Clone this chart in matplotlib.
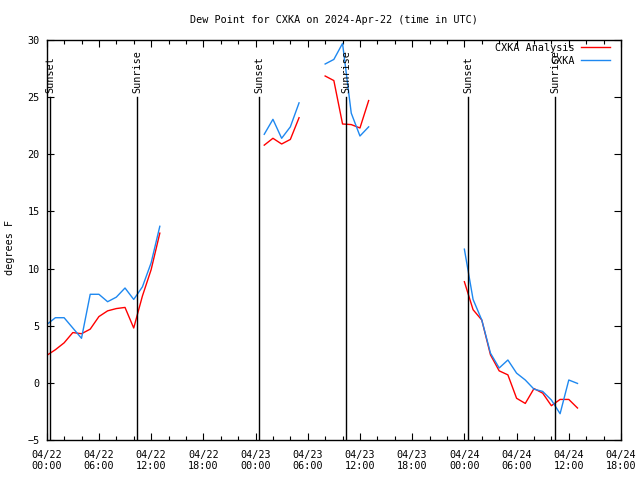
import numpy as np
import matplotlib
matplotlib.use("Agg")
import matplotlib.pyplot as plt
from matplotlib.ticker import MultipleLocator, FixedLocator

plt.rcParams['font.family'] = ['DejaVu Sans Mono']
FS = 7.3

# hours since 2024-04-22 00:00 UTC
seg_hours = [list(range(0, 14)), list(range(25, 30)), list(range(32, 38)), list(range(48, 62))]

analysis = [
    [2.4, 2.9, 3.5, 4.4, 4.3, 4.7, 5.8, 6.3, 6.5, 6.6, 4.8, 7.6, 9.9, 13.1],
    [20.8, 21.4, 20.9, 21.3, 23.2],
    [26.85, 26.45, 22.65, 22.6, 22.3, 24.7],
    [8.85, 6.4, 5.5, 2.45, 1.05, 0.7, -1.35, -1.8, -0.5, -0.9, -2.0, -1.45, -1.45, -2.2],
]
observed = [
    [5.1, 5.7, 5.7, 4.8, 3.9, 7.75, 7.75, 7.1, 7.5, 8.3, 7.3, 8.4, 10.5, 13.7],
    [21.75, 23.06, 21.4, 22.4, 24.5],
    [27.9, 28.3, 29.7, 23.6, 21.6, 22.4],
    [11.7, 7.3, 5.5, 2.6, 1.3, 2.0, 0.85, 0.25, -0.55, -0.75, -1.5, -2.7, 0.25, -0.05],
]

sunset_hours = [0.42, 24.42, 48.42]
sunrise_hours = [10.42, 34.42, 58.45]

tick_hours = list(range(0, 67, 6))
tick_labels = ["04/22\n00:00", "04/22\n06:00", "04/22\n12:00", "04/22\n18:00",
               "04/23\n00:00", "04/23\n06:00", "04/23\n12:00", "04/23\n18:00",
               "04/24\n00:00", "04/24\n06:00", "04/24\n12:00", "04/24\n18:00"]

RED = '#ff0000'
BLUE = '#1e88f0'


def join(segs_x, segs_y):
    xs, ys = [], []
    for i, (sx, sy) in enumerate(zip(segs_x, segs_y)):
        if i:
            xs.append(np.nan)
            ys.append(np.nan)
        xs += list(sx)
        ys += list(sy)
    return np.array(xs, float), np.array(ys, float)


fig = plt.figure(figsize=(6.4, 4.8), dpi=100)
ax = fig.add_axes([46.7 / 640, 1 - 440 / 480, (621 - 46.7) / 640, 400 / 480])

xa, ya = join(seg_hours, analysis)
xo, yo = join(seg_hours, observed)
la, = ax.plot(xa, ya, color=RED, lw=1.0, label='CXKA Analysis')
lo, = ax.plot(xo, yo, color=BLUE, lw=1.0, label='CXKA')

for h in sunset_hours:
    ax.plot([h, h], [-5, 25], color='black', lw=1.0)
    ax.text(h, 25.4, 'Sunset', rotation=90, ha='center', va='bottom', fontsize=FS)
for h in sunrise_hours:
    ax.plot([h, h], [-5, 25], color='black', lw=1.0)
    ax.text(h, 25.4, 'Sunrise', rotation=90, ha='center', va='bottom', fontsize=FS)

ax.set_xlim(0, 66)
ax.set_ylim(-5, 30)
ax.xaxis.set_major_locator(FixedLocator(tick_hours))
ax.set_xticklabels(tick_labels)
ax.xaxis.set_minor_locator(MultipleLocator(2))
ax.yaxis.set_major_locator(MultipleLocator(5))
ax.tick_params(axis='both', which='both', direction='in', top=True, right=True,
               labelsize=FS, color='black', width=0.8)
ax.tick_params(axis='both', which='major', length=5)
ax.tick_params(axis='both', which='minor', length=3)
ax.tick_params(axis='x', pad=7)
ax.tick_params(axis='y', pad=5)
for s in ax.spines.values():
    s.set_linewidth(1.0)
    s.set_color('black')

fig.text(333.8 / 640, 1 - 20 / 480, 'Dew Point for CXKA on 2024-Apr-22 (time in UTC)',
         ha='center', va='center', fontsize=FS)
fig.text(10.5 / 640, 1 - 247 / 480, 'degrees F', rotation=90, ha='center', va='center',
         fontsize=FS)

leg = ax.legend(handles=[la, lo], loc='upper right', bbox_to_anchor=(610 / 640, 1 - 43 / 480),
                bbox_transform=fig.transFigure, frameon=False, markerfirst=False,
                fontsize=FS, handlelength=2.9, handletextpad=0.6, borderpad=0,
                borderaxespad=0, labelspacing=0.25)

fig.savefig('out.png', dpi=100)
